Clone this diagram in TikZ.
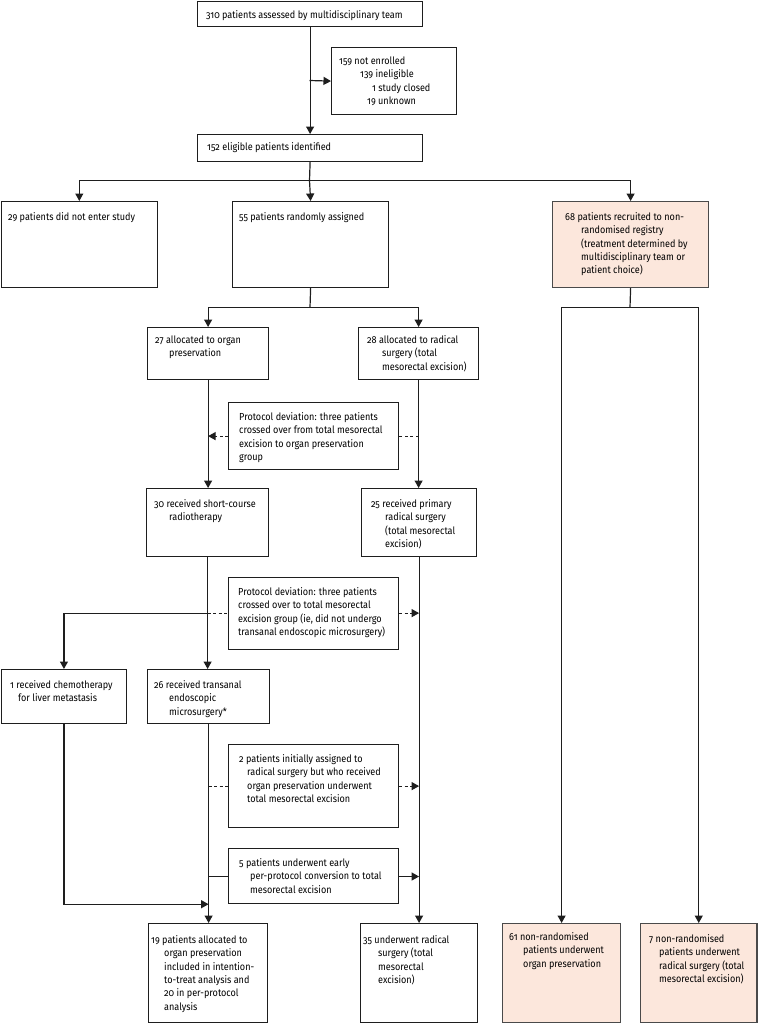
\documentclass[tikz,border=0pt]{standalone}
\usepackage{fontspec}
\setmainfont{Fira Sans}[Numbers=OldStyle, FakeStretch=0.89]
\usetikzlibrary{arrows.meta}
\definecolor{linec}{HTML}{1E1E1E}
\definecolor{pinkc}{HTML}{FCE7DC}
\definecolor{pinkline}{HTML}{4A4A4A}
\newcommand{\tl}[1]{\begin{tabular}[t]{@{}l@{}}#1\end{tabular}}
\newcommand{\ind}[1]{\hspace*{#1bp}}
\begin{document}
\begin{tikzpicture}[x=1bp,y=-1bp,
  box/.style={draw=linec, line width=1.2bp, rectangle, inner sep=0pt, anchor=north west},
  pbox/.style={box, draw=pinkline, fill=pinkc},
  txt/.style={anchor=base west, inner sep=0pt, font=\fontsize{10.2bp}{13.3bp}\selectfont, text=black},
  conn/.style={draw=linec, line width=1.2bp},
  arr/.style={conn, -{Triangle[width=8bp,length=7.5bp]}},
  dsh/.style={dash pattern=on 3bp off 2.5bp}]
\useasboundingbox (0,0) rectangle (758,1023);

% boxes
\node[box, minimum width=225bp, minimum height=25bp] (b1) at (197,1) {};
\node[box, minimum width=125bp, minimum height=67bp] (notenr) at (331,47) {};
\node[box, minimum width=225bp, minimum height=27bp] (elig) at (197,134) {};
\node[box, minimum width=156bp, minimum height=86bp] (noentry) at (0.7,201) {};
\node[box, minimum width=156bp, minimum height=86bp] (rand) at (232,201) {};
\node[pbox, minimum width=156bp, minimum height=86bp] (reg) at (552,201) {};
\node[box, minimum width=121bp, minimum height=52bp] (org) at (147,327) {};
\node[box, minimum width=120bp, minimum height=52bp] (rad) at (358,327) {};
\node[box, minimum width=170bp, minimum height=67bp] (dev1) at (228,402) {};
\node[box, minimum width=122bp, minimum height=68bp] (rt) at (146,488) {};
\node[box, minimum width=115bp, minimum height=68bp] (prim) at (361,488) {};
\node[box, minimum width=170bp, minimum height=72bp] (dev2) at (228,576.5) {};
\node[box, minimum width=125.3bp, minimum height=54bp] (chemo) at (0.7,669) {};
\node[box, minimum width=122bp, minimum height=54bp] (tem) at (147,669) {};
\node[box, minimum width=170bp, minimum height=83bp] (dev3) at (228,744) {};
\node[box, minimum width=170bp, minimum height=55bp] (conv) at (228,848) {};
\node[box, minimum width=119bp, minimum height=99bp] (itt) at (148,923) {};
\node[box, minimum width=117bp, minimum height=99bp] (tme) at (360,923) {};
\node[pbox, minimum width=118bp, minimum height=99bp] (r61) at (502,923) {};
\node[pbox, minimum width=116.3bp, minimum height=99bp] (r7) at (640,923) {};

% texts
\node[txt] (t1) at (206,18.5) {310 patients assessed by multidisciplinary team};
\node[txt] (tnotenr) at (339,64.5) {\tl{159 not enrolled\\ \ind{21}139 ineligible\\ \ind{33}1 study closed\\ \ind{28}19 unknown}};
\node[txt] (telig) at (207,150.5) {152 eligible patients identified};
\node[txt] (tnoentry) at (8,220.5) {29 patients did not enter study};
\node[txt] (trand) at (239,220.5) {55 patients randomly assigned};
\node[txt] (treg) at (565,220.5) {\tl{68 patients recruited to non-\\ \ind{16}randomised registry\\ \ind{16}(treatment determined by\\ \ind{16}multidisciplinary team or\\ \ind{16}patient choice)}};
\node[txt] (torg) at (155,343.5) {\tl{27 allocated to organ\\ \ind{14}preservation}};
\node[txt] (trad) at (367,343.5) {\tl{28 allocated to radical\\ \ind{15}surgery (total\\ \ind{15}mesorectal excision)}};
\node[txt] (tdev1) at (239,420.5) {\tl{Protocol deviation: three patients\\ crossed over from total mesorectal\\ excision to organ preservation\\ group}};
\node[txt] (trt) at (154,507.5) {\tl{30 received short-course\\ \ind{15}radiotherapy}};
\node[txt] (tprim) at (371,507.5) {\tl{25 received primary\\ \ind{14}radical surgery\\ \ind{14}(total mesorectal\\ \ind{14}excision)}};
\node[txt] (tdev2) at (238,595.5) {\tl{Protocol deviation: three patients\\ crossed over to total mesorectal\\ excision group (ie, did not undergo\\ transanal endoscopic microsurgery)}};
\node[txt] (tchemo) at (10,688.5) {\tl{1 received chemotherapy\\ \ind{8}for liver metastasis}};
\node[txt] (ttem) at (154,688.5) {\tl{26 received transanal\\ \ind{15}endoscopic\\ \ind{15}microsurgery*}};
\node[txt] (tdev3) at (239,762.5) {\tl{2 patients initially assigned to\\ \ind{8}radical surgery but who received\\ \ind{8}organ preservation underwent\\ \ind{8}total mesorectal excision}};
\node[txt] (tconv) at (239,866.5) {\tl{5 patients underwent early\\ \ind{11}per-protocol conversion to total\\ \ind{11}mesorectal excision}};
\node[txt] (titt) at (151,943.5) {\tl{19 patients allocated to\\ \ind{13}organ preservation\\ \ind{13}included in intention-\\ \ind{13}to-treat analysis and\\ \ind{13}20 in per-protocol\\ \ind{13}analysis}};
\node[txt] (ttme) at (363,943.5) {\tl{35 underwent radical\\ \ind{15}surgery (total\\ \ind{15}mesorectal\\ \ind{15}excision)}};
\node[txt] (tr61) at (509,940.5) {\tl{61 non-randomised\\ \ind{14}patients underwent\\ \ind{14}organ preservation}};
\node[txt] (tr7) at (649,942.5) {\tl{7 non-randomised\\ \ind{10}patients underwent\\ \ind{10}radical surgery (total\\ \ind{10}mesorectal excision)}};

% junctions
\coordinate (j1) at (309.5,80.5);
\coordinate (j2) at (309.5,180.5);
\coordinate (j3) at (310,307.5);
\coordinate (j4) at (rt.south |- dev2.west);
\coordinate (j5) at (tem.south |- conv.south);
\coordinate (j6) at (630,307.5);
\coordinate (j7) at (tem.south |- 0,876.5);

% connectors
\draw[arr] (b1.south) -- (elig.north);
\draw[arr] (j1) -- (notenr.west);
\draw[conn] (elig.south) -- (j2);
\draw[arr] (j2) -| (noentry.north);
\draw[arr] (j2) -| (reg.north);
\draw[arr] (j2) -- (rand.north);
\draw[conn] (rand.south) -- (j3);
\draw[arr] (j3) -| (org.north);
\draw[arr] (j3) -| (rad.north);
\draw[arr] (org.south) -- (org.south |- rt.north);
\draw[arr] (rad.south) -- (rad.south |- prim.north);
\draw[conn, dsh] (rad.south |- dev1.east) -- (dev1.east);
\draw[arr, dsh] (dev1.west) -- (org.south |- dev1.west);
\draw[arr] (rt.south) -- (rt.south |- tem.north);
\draw[arr] (j4) -| (chemo.north);
\draw[conn, dsh] (j4) -- (dev2.west);
\draw[arr, dsh] (dev2.east) -- (prim.south |- dev2.east);
\draw[arr] (prim.south) -- (prim.south |- tme.north);
\draw[arr] (tem.south) -- (tem.south |- itt.north);
\draw[conn, dsh] (tem.south |- dev3.west) -- (dev3.west);
\draw[arr, dsh] (dev3.east) -- (prim.south |- dev3.east);
\draw[conn] (j7) -- (conv.west |- j7);
\draw[arr] (conv.east |- j7) -- (prim.south |- j7);
\draw[arr] (chemo.south) |- (j5);
\draw[conn] (reg.south) -- (j6);
\draw[arr] (j6) -| (r61.north);
\draw[arr] (j6) -| (r7.north);
\end{tikzpicture}
\end{document}
